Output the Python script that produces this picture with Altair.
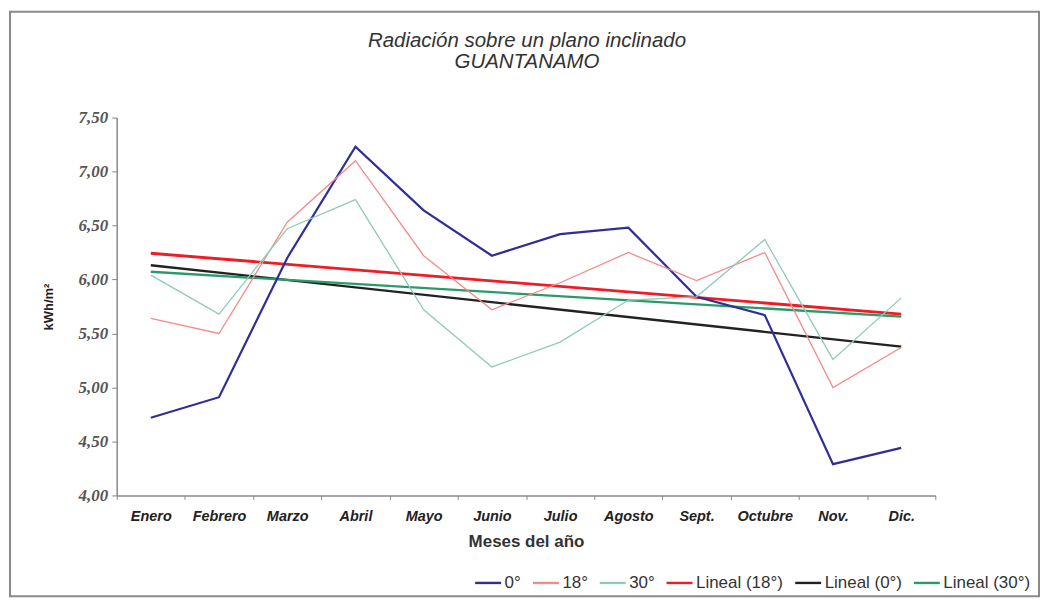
import altair as alt
import pandas as pd

meses = ["Enero", "Febrero", "Marzo", "Abril", "Mayo", "Junio", "Julio",
         "Agosto", "Sept.", "Octubre", "Nov.", "Dic."]
serie_0 = [4.72, 4.91, 6.20, 7.23, 6.64, 6.22, 6.42, 6.48, 5.84, 5.67, 4.29, 4.44]
serie_18 = [5.64, 5.50, 6.53, 7.10, 6.22, 5.72, 5.97, 6.25, 5.99, 6.25, 5.00, 5.37]
serie_30 = [6.04, 5.68, 6.47, 6.74, 5.72, 5.19, 5.42, 5.81, 5.84, 6.37, 5.26, 5.83]

series_names = ["0°", "18°", "30°"]
trend_names = {"0°": "Lineal (0°)", "18°": "Lineal (18°)", "30°": "Lineal (30°)"}
legend_order = ["0°", "18°", "30°", "Lineal (18°)", "Lineal (0°)", "Lineal (30°)"]
legend_colors = ["#2e2e96", "#f58a8a", "#8fcabb", "#ee1c24", "#222222", "#2a9a6a"]
line_widths = {"0°": 2.2, "18°": 1.3, "30°": 1.3,
               "Lineal (18°)": 2.8, "Lineal (0°)": 2.3, "Lineal (30°)": 2.3}
title_lines = ["Radiación sobre un plano inclinado", "GUANTANAMO"]

rows = []
for name, vals in zip(series_names, [serie_0, serie_18, serie_30]):
    for i, (m, v) in enumerate(zip(meses, vals)):
        rows.append({"Mes": m, "idx": i + 1, "valor": v, "serie": name,
                     "tendencia": trend_names[name]})
df = pd.DataFrame(rows)

W, H = 821, 379
FONT_SANS = "Liberation Sans"
FONT_SERIF = "Liberation Serif"

color_scale = alt.Scale(domain=legend_order, range=legend_colors)

x_enc = alt.X(
    "Mes:O", sort=meses,
    scale=alt.Scale(type="band", domain=meses, paddingInner=0, paddingOuter=0),
    axis=alt.Axis(
        title="Meses del año", tickBand="extent", labelAngle=0,
        labelFont=FONT_SANS, labelFontStyle="italic", labelFontWeight="bold",
        labelFontSize=14.5, labelColor="#222", labelPadding=10,
        titleFont=FONT_SANS, titleFontWeight="bold", titleFontSize=17,
        titleColor="#333", titlePadding=11,
        domainColor="#888", domainWidth=1.5, tickColor="#888", tickSize=4,
        grid=False,
    ),
)
y_enc = alt.Y(
    "valor:Q",
    scale=alt.Scale(domain=[4.0, 7.5], nice=False, zero=False),
    axis=alt.Axis(
        title="kWh/m²", values=[4.0, 4.5, 5.0, 5.5, 6.0, 6.5, 7.0, 7.5],
        labelExpr="replace(format(datum.value, '.2f'), '.', ',')",
        labelFont=FONT_SERIF, labelFontStyle="italic", labelFontWeight="bold",
        labelFontSize=17, labelColor="#555", labelPadding=4,
        titleFont=FONT_SANS, titleFontWeight="bold", titleFontSize=13,
        titleColor="#222", titlePadding=23,
        domainColor="#888", domainWidth=1.5, tickColor="#888", tickSize=5,
        grid=False,
    ),
)

legend = alt.Legend(
    title=None, orient="none", direction="horizontal", columns=6,
    legendX=358, legendY=452, symbolType="stroke", symbolSize=676,
    symbolStrokeWidth=2.4, labelFont=FONT_SANS, labelFontSize=17,
    labelColor="#333", columnPadding=6, labelOffset=2,
)

layers = []
frame = alt.Chart(pd.DataFrame({"a": [0]})).mark_rect(
    fill=None, stroke="#8a8a8a", strokeWidth=2, clip=False
).encode(
    x=alt.value(-107), x2=alt.value(W + 104),
    y=alt.value(-106), y2=alt.value(H + 101),
)
layers.append(frame)

title_df = pd.DataFrame({"t": title_lines, "k": [0, 1]})
for k, txt in enumerate(title_lines):
    layers.append(
        alt.Chart(title_df).transform_filter(f"datum.k == {k}").mark_text(
            font=FONT_SANS, fontSize=20.5, fontStyle="italic", color="#333",
            align="center", baseline="middle", clip=False,
        ).encode(text="t:N", x=alt.value(W / 2 + 1), y=alt.value(-77 + 21 * k))
    )

for name in series_names:
    tname = trend_names[name]
    layers.append(
        alt.Chart(df).transform_filter(
            alt.datum.tendencia == tname
        ).transform_regression("idx", "valor").transform_calculate(
            Mes="[" + ",".join("'" + m + "'" for m in meses) + "][round(datum.idx) - 1]",
            tendencia=f"'{tname}'",
        ).mark_line(strokeWidth=line_widths[tname]).encode(
            x=x_enc, y=y_enc,
            color=alt.Color("tendencia:N", scale=color_scale, legend=legend),
        )
    )

for name in series_names:
    layers.append(
        alt.Chart(df).transform_filter(alt.datum.serie == name).mark_line(
            strokeWidth=line_widths[name]
        ).encode(
            x=x_enc, y=y_enc,
            color=alt.Color("serie:N", scale=color_scale, legend=legend),
        )
    )

chart = alt.layer(*layers).resolve_scale(color="shared").properties(
    width=W, height=H, background="white",
    padding={"left": 109, "top": 109, "right": 106, "bottom": 105},
    autosize=alt.AutoSizeParams(type="none"),
).configure_view(stroke="transparent", strokeWidth=0)

chart.save("out.html", embed_options={"renderer": "svg", "actions": False})
